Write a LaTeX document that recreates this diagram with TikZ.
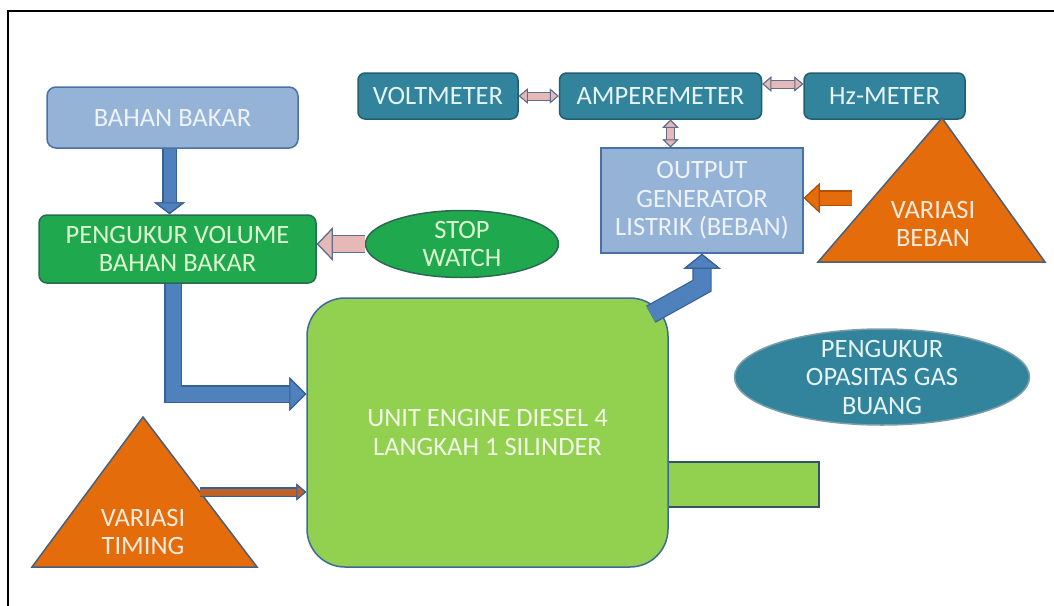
\documentclass[tikz,border=0pt]{standalone}
\usepackage{fontspec}
\setmainfont{Carlito}
\usepackage{tikz}
\usetikzlibrary{arrows.meta, shapes.geometric, positioning}
\definecolor{fuelblue}{HTML}{95B3D7}
\definecolor{fuelline}{HTML}{4A70A8}
\definecolor{fueltext}{HTML}{EEF3FA}
\definecolor{volgreen}{HTML}{1FA84E}
\definecolor{volline}{HTML}{2B6A52}
\definecolor{voltext}{HTML}{DDF8D0}
\definecolor{enginegreen}{HTML}{92D050}
\definecolor{engineline}{HTML}{3D6A9A}
\definecolor{enginetext}{HTML}{F2F9E6}
\definecolor{shaftline}{HTML}{34526E}
\definecolor{meterteal}{HTML}{31849B}
\definecolor{meterline}{HTML}{235E70}
\definecolor{metertext}{HTML}{E6F3F7}
\definecolor{triorange}{HTML}{E46C0A}
\definecolor{triline}{HTML}{46607E}
\definecolor{tritext}{HTML}{FDEBDD}
\definecolor{flowblue}{HTML}{4F81BD}
\definecolor{flowline}{HTML}{36609A}
\definecolor{linkpink}{HTML}{E6B9B8}
\definecolor{linkline}{HTML}{5C6F8E}
\definecolor{timingbrown}{HTML}{C0632A}
\tikzset{
  box/.style={align=center,inner sep=0pt,line width=1.5pt,font=\fontsize{26.5}{28.5}\selectfont},
  fuel/.style={box,rectangle,rounded corners=9pt,draw=fuelline,fill=fuelblue,text=fueltext},
  volume/.style={box,rectangle,rounded corners=8pt,draw=volline,fill=volgreen,text=voltext},
  watch/.style={box,ellipse,draw=volline,fill=volgreen,text=voltext},
  meter/.style={box,rectangle,rounded corners=7pt,draw=meterline,fill=meterteal,text=metertext,minimum height=46pt},
  gauge/.style={box,ellipse,inner sep=-8pt,draw=meterline!60,fill=meterteal,text=metertext},
  genbox/.style={box,rectangle,draw=fuelline,fill=fuelblue,text=fueltext},
  enginebox/.style={box,rectangle,rounded corners=38pt,draw=engineline,fill=enginegreen,text=enginetext},
  shaftbox/.style={rectangle,inner sep=0pt,line width=1.5pt,draw=shaftline,fill=enginegreen},
  variasi/.style={draw=triline,line width=1.5pt,fill=triorange,line join=miter},
  varlabel/.style={align=center,inner sep=0pt,text=tritext,font=\fontsize{26.5}{28}\selectfont},
  flow/.style n args={5}{draw=#1,line width=#3,line join=miter,
    -{Triangle[length=#4,width=#5,fill=#1,color=#2,line width=1.2pt]},
    preaction={draw=#2,line width=#3+2.4pt,line join=miter,
      -{Triangle[length=#4,width=#5,color=#2,line width=1.2pt]}}},
  link/.style n args={3}{draw=linkpink,line width=#1,
    {Triangle[length=#2,width=#3,fill=linkpink,color=linkline,line width=1pt]}-{Triangle[length=#2,width=#3,fill=linkpink,color=linkline,line width=1pt]},
    preaction={draw=linkline,line width=#1+2pt,
      {Triangle[length=#2,width=#3,color=linkline,line width=1pt]}-{Triangle[length=#2,width=#3,color=linkline,line width=1pt]}}},
}

\begin{document}
\begin{tikzpicture}[x=1pt,y=-1pt]
	\useasboundingbox (0,0) rectangle (1054,605);
	\draw[line width=2.5pt] (8,612) -- (8,11) -- (1062,11);
	% fuel side
	\node[fuel,minimum width=251pt,minimum height=61pt] (FUEL) at (172.5,117.5) {BAHAN BAKAR};
	\node[volume,minimum width=277pt,minimum height=68pt] (VOLUME) at (177.5,249) {PENGUKUR VOLUME\\BAHAN BAKAR};
	\node[watch,minimum width=193pt,minimum height=67pt] (WATCH) at (462,244) {STOP\\WATCH};
	% engine
	\node[shaftbox,minimum width=151pt,minimum height=45pt] (SHAFT) at (743.5,484.5) {};
	\node[enginebox,minimum width=361pt,minimum height=269pt] (ENGINE) at (487.5,432.5) {UNIT ENGINE DIESEL 4\\LANGKAH 1 SILINDER};
	% meters
	\node[meter,minimum width=160pt] (VOLT) at (438,96) {VOLTMETER};
	\node[meter,minimum width=202pt,right=40pt of VOLT] (AMP) {AMPEREMETER};
	\node[meter,minimum width=161pt,right=41pt of AMP] (HZ) {Hz-METER};
	\node[genbox,minimum width=202pt,minimum height=105pt] (OUTPUT) at (702,200.5) {OUTPUT\\GENERATOR\\LISTRIK (BEBAN)};
	\node[gauge,minimum width=295pt,minimum height=96pt] (OPACITY) at (882,377) {PENGUKUR\\OPASITAS GAS\\BUANG};
	% variations
	\draw[variasi] (143,417) -- (257,567) -- (32,567) -- cycle;
	\node[varlabel] (TIMING) at (143,531.5) {VARIASI\\TIMING};
	\draw[variasi] (942,118) -- (1045,262) -- (818,262) -- cycle;
	\node[varlabel] (LOAD) at (933,223.5) {VARIASI\\BEBAN};
	\coordinate (TIMINGTIP) at (200,492);
	\coordinate (LOADTIP) at (852,198);
	% connectors
	\draw[flow={flowblue}{flowline}{12pt}{12pt}{31pt}] ([xshift=-3pt]FUEL.south) -- ([xshift=-8pt]VOLUME.north);
	\draw[flow={flowblue}{flowline}{15pt}{17pt}{34pt}] ([xshift=-4.5pt]VOLUME.south) |- ([yshift=38.5pt]ENGINE.west);
	\draw[flow={linkpink}{linkline}{16pt}{16pt}{33pt}] (WATCH.west) -- (WATCH.west -| VOLUME.east);
	\draw[flow={flowblue}{flowline}{17pt}{15pt}{37pt}] ([shift={(-18pt,-17pt)}]ENGINE.north east) -- ([yshift=-32pt]OUTPUT.south) -- (OUTPUT.south);
	\draw[flow={triorange}{triorange!75!black}{13pt}{16pt}{30pt}] (LOADTIP) -- (LOADTIP -| OUTPUT.east);
	\draw[flow={timingbrown}{flowline}{7pt}{10pt}{17pt}] (TIMINGTIP) -- (TIMINGTIP -| ENGINE.west);
	\draw[link={7pt}{9pt}{15pt}] (VOLT.east) -- (AMP.west);
	\draw[link={7pt}{9pt}{15pt}] ([yshift=12pt]AMP.east) -- ([yshift=12pt]HZ.west);
	\draw[link={7pt}{8pt}{16pt}] ([xshift=10pt]AMP.south) -- ([xshift=10pt]AMP.south |- OUTPUT.north);
\end{tikzpicture}
\end{document}
